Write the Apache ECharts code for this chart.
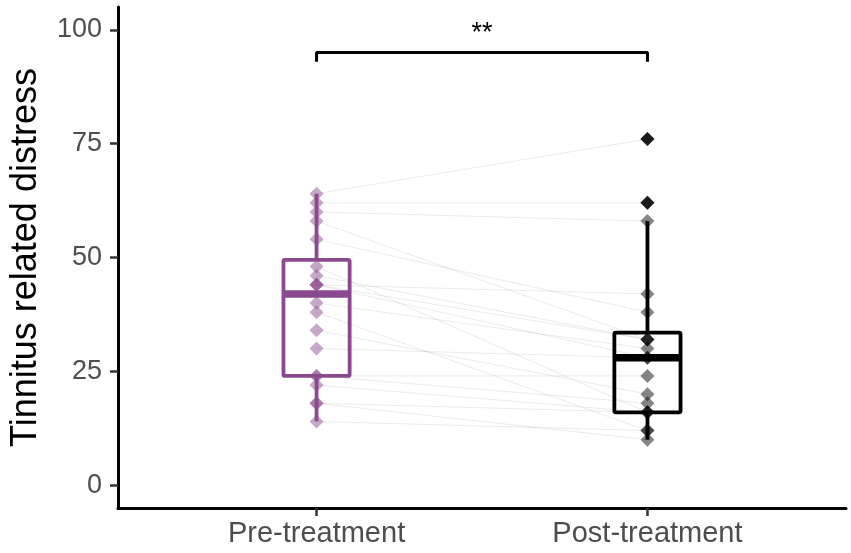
<!DOCTYPE html>
<html>
<head>
<meta charset="utf-8">
<script src="https://cdn.jsdelivr.net/npm/echarts@6.0.0/dist/echarts.min.js"></script>
<style>
  html, body { margin: 0; padding: 0; background: #fff; }
  #chart { width: 851px; height: 553px; }
</style>
</head>
<body>
<div id="chart"></div>
<script>
// categories and tick labels
var groups = ['Pre-treatment', 'Post-treatment'];
var yTicks = [0, 25, 50, 75, 100];

// paired scores, one entry per subject (same order in both arrays)
var preValues  = [64, 62, 60, 58, 54, 48, 46, 44, 44, 44, 40, 38, 34, 30, 24, 24, 22, 18, 18, 14];
var postValues = [76, 62, 58, 32, 38, 16, 32, 42, 28, 32, 30, 12, 20, 28, 24, 18, 16, 16, 10, 12];

// significance bracket: [top, end drop] and label
var bracketLevels = [95, 93];
var sigLabel = '**';

var boxColors = ['#8B4A8F', '#000000'];
var pointColors = ['rgba(139,74,143,0.6)', 'rgba(0,0,0,0.6)'];

// tukey box stats (quantile type 7 like R)
function quantile(sorted, p) {
    var h = (sorted.length - 1) * p;
    var lo = Math.floor(h);
    var hi = Math.ceil(h);
    return sorted[lo] + (h - lo) * (sorted[hi] - sorted[lo]);
}
function boxStats(values) {
    var s = values.slice().sort(function (a, b) { return a - b; });
    var q1 = quantile(s, 0.25), med = quantile(s, 0.5), q3 = quantile(s, 0.75);
    var iqr = q3 - q1;
    var inside = s.filter(function (v) { return v >= q1 - 1.5 * iqr && v <= q3 + 1.5 * iqr; });
    var outliers = s.filter(function (v) { return v < q1 - 1.5 * iqr || v > q3 + 1.5 * iqr; });
    return { min: inside[0], q1: q1, med: med, q3: q3, max: inside[inside.length - 1], outliers: outliers };
}

var allValues = [preValues, postValues];
var boxData = [];
var outlierData = [];
var pointData = [[], []];
allValues.forEach(function (vals, i) {
    var st = boxStats(vals);
    boxData.push([i + 1, st.min, st.q1, st.med, st.q3, st.max, i]);
    st.outliers.forEach(function (v) { outlierData.push({ value: [i + 1, v], itemStyle: { color: boxColors[i] } }); });
    vals.forEach(function (v) { pointData[i].push([i + 1, v]); });
});

var pairData = [];
for (var k = 0; k < preValues.length; k++) {
    pairData.push([preValues[k], postValues[k]]);
}

var chart = echarts.init(document.getElementById('chart'), null, { renderer: 'canvas' });

var option = {
    animation: false,
    backgroundColor: '#ffffff',
    grid: { left: 116, right: 5, top: 7, bottom: 45 },
    xAxis: {
        type: 'value',
        min: 0.4,
        max: 2.6,
        splitLine: { show: false },
        axisLine: { show: true, onZero: false, lineStyle: { color: '#000', width: 3 } },
        axisTick: { show: true, customValues: [1, 2], length: 8, lineStyle: { color: '#333', width: 2.5 } },
        axisLabel: {
            customValues: [1, 2],
            formatter: function (v) { return groups[Math.round(v) - 1]; },
            color: '#4d4d4d',
            fontFamily: 'Liberation Sans, Arial, sans-serif',
            fontSize: 29,
            margin: 11
        }
    },
    yAxis: {
        type: 'value',
        min: -5,
        max: 105,
        name: 'Tinnitus related distress',
        nameLocation: 'middle',
        nameGap: 74,
        nameTextStyle: { color: '#000', fontFamily: 'Liberation Sans, Arial, sans-serif', fontSize: 36 },
        splitLine: { show: false },
        axisLine: { show: true, onZero: false, lineStyle: { color: '#000', width: 3 } },
        axisTick: { show: true, customValues: yTicks, length: 8, lineStyle: { color: '#333', width: 2.5 } },
        axisLabel: {
            customValues: yTicks,
            color: '#4d4d4d',
            fontFamily: 'Liberation Sans, Arial, sans-serif',
            fontSize: 27,
            margin: 16
        }
    },
    series: [
        {
            // subject connection lines
            type: 'custom',
            z: 1,
            data: pairData,
            renderItem: function (params, api) {
                var a = api.coord([1, api.value(0)]);
                var b = api.coord([2, api.value(1)]);
                return {
                    type: 'line',
                    shape: { x1: a[0], y1: a[1], x2: b[0], y2: b[1] },
                    style: { stroke: 'rgba(170,170,170,0.4)', lineWidth: 0.6 }
                };
            }
        },
        {
            // box + whiskers
            type: 'custom',
            z: 2,
            data: boxData,
            renderItem: function (params, api) {
                var x = api.value(0);
                var col = boxColors[api.value(6)];
                var half = 0.1;
                var pMin = api.coord([x, api.value(1)]);
                var pQ1 = api.coord([x, api.value(2)]);
                var pMed = api.coord([x, api.value(3)]);
                var pQ3 = api.coord([x, api.value(4)]);
                var pMax = api.coord([x, api.value(5)]);
                var left = api.coord([x - half, 0])[0];
                var right = api.coord([x + half, 0])[0];
                var st = { stroke: col, lineWidth: 3.8, fill: null };
                return {
                    type: 'group',
                    children: [
                        { type: 'line', shape: { x1: pMin[0], y1: pMin[1], x2: pQ1[0], y2: pQ1[1] }, style: st },
                        { type: 'line', shape: { x1: pQ3[0], y1: pQ3[1], x2: pMax[0], y2: pMax[1] }, style: st },
                        { type: 'rect', shape: { x: left, y: pQ3[1], width: right - left, height: pQ1[1] - pQ3[1], r: 1.5 }, style: { stroke: col, lineWidth: 3.8, fill: 'rgba(255,255,255,0)' } },
                        { type: 'line', shape: { x1: left, y1: pMed[1], x2: right, y2: pMed[1] }, style: { stroke: col, lineWidth: 7.5 } }
                    ]
                };
            }
        },
        {
            type: 'scatter',
            z: 3,
            symbol: 'diamond',
            symbolSize: 14,
            data: outlierData
        },
        {
            type: 'scatter',
            z: 4,
            symbol: 'diamond',
            symbolSize: 14,
            itemStyle: { color: pointColors[0] },
            data: pointData[0]
        },
        {
            type: 'scatter',
            z: 4,
            symbol: 'diamond',
            symbolSize: 14,
            itemStyle: { color: pointColors[1] },
            data: pointData[1]
        },
        {
            // significance bracket
            type: 'line',
            z: 5,
            symbol: 'none',
            lineStyle: { color: '#000', width: 3 },
            data: [[1, bracketLevels[1]], [1, bracketLevels[0]], [2, bracketLevels[0]], [2, bracketLevels[1]]]
        },
        {
            type: 'custom',
            z: 5,
            data: [[1.5, bracketLevels[0]]],
            renderItem: function (params, api) {
                var p = api.coord([api.value(0), api.value(1)]);
                return {
                    type: 'text',
                    x: p[0],
                    y: p[1] - 5,
                    style: {
                        text: sigLabel,
                        fill: '#000',
                        fontFamily: 'Liberation Sans, Arial, sans-serif',
                        fontSize: 27,
                        align: 'center',
                        verticalAlign: 'bottom'
                    }
                };
            }
        }
    ]
};

chart.setOption(option);
</script>
</body>
</html>
